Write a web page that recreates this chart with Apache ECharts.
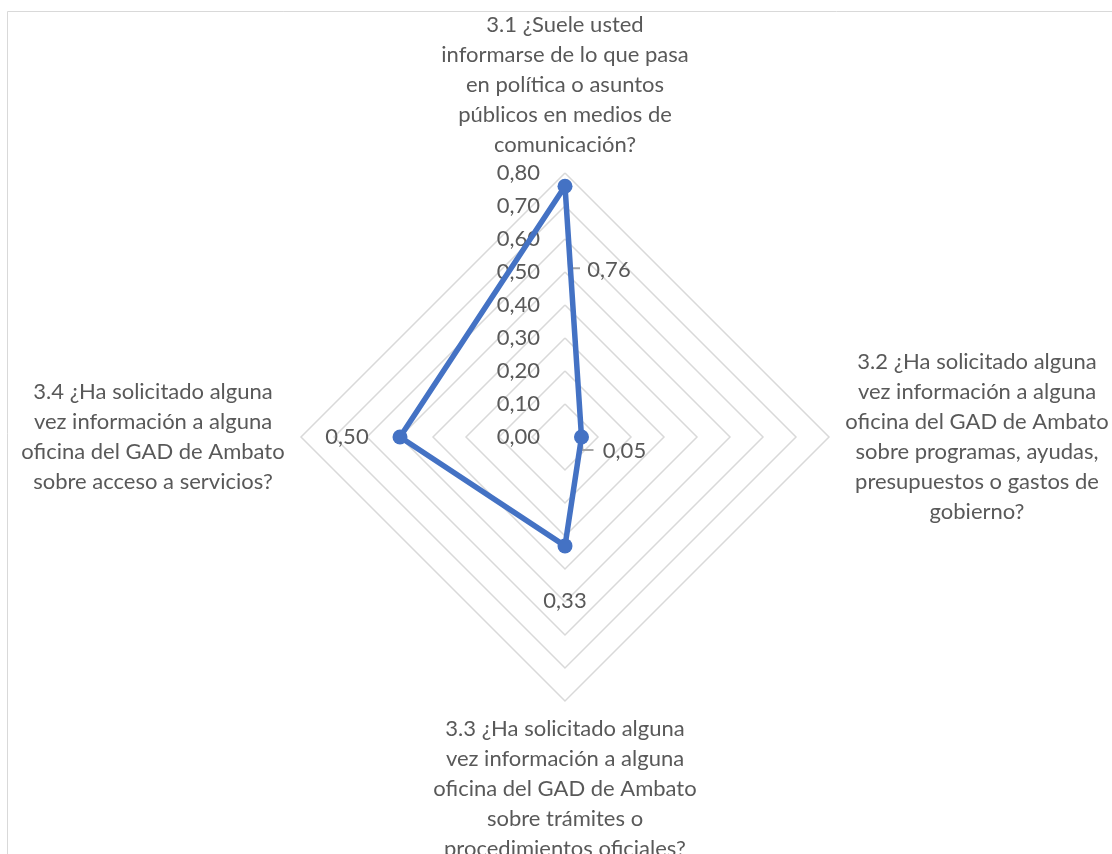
<!DOCTYPE html>
<html><head><meta charset="utf-8">
<script src="https://cdn.jsdelivr.net/npm/echarts@6/dist/echarts.min.js"></script>
<style>html,body{margin:0;padding:0;background:#fff}#c{width:1112px;height:854px}</style>
</head><body><div id="c"></div>
<script>
// Categories in the original (clockwise) order, line breaks as in the reference
const categories = [
  "3.1 ¿Suele usted\ninformarse de lo que pasa\nen política o asuntos\npúblicos en medios de\ncomunicación?",
  "3.2 ¿Ha solicitado alguna\nvez información a alguna\noficina del GAD de Ambato\nsobre programas, ayudas,\npresupuestos o gastos de\ngobierno?",
  "3.3 ¿Ha solicitado alguna\nvez información a alguna\noficina del GAD de Ambato\nsobre trámites o\nprocedimientos oficiales?",
  "3.4 ¿Ha solicitado alguna\nvez información a alguna\noficina del GAD de Ambato\nsobre acceso a servicios?"
];
const values = [0.76, 0.05, 0.33, 0.50];
const axisMin = 0;
const axisMax = 0.8;
const axisSplits = 8;

const FONT = 'Lato';
const TXT = '#595959';

// ECharts lays radar indicators counter-clockwise; reorder to get clockwise
const order = [0, 3, 2, 1];
const indicators = order.map((i, k) => {
  const ind = { name: categories[i], min: axisMin, max: axisMax };
  if (k === 0) ind.axisLabel = { show: true };
  return ind;
});
const seriesValues = order.map(i => values[i]);

// label offsets by original index (dx, dy)
const labelShift = { 0: [44, 84], 1: [43, 14], 2: [0, 55], 3: [-53, 0] };
const rich = {};
Object.keys(labelShift).forEach(k => {
  const [dx, dy] = labelShift[k];
  rich['v' + k] = {
    fontFamily: FONT, fontSize: 22, color: TXT,
    padding: [dy > 0 ? 2 * dy : 0, dx < 0 ? -2 * dx : 0, dy < 0 ? -2 * dy : 0, dx > 0 ? 2 * dx : 0]
  };
});
const fmt = v => v.toFixed(2).replace('.', ',');

const borderRect = {
  type: 'rect', silent: true,
  shape: { x: 7.5, y: 11.5, width: 1200, height: 1000 },
  style: { fill: 'none', stroke: '#d9d9d9', lineWidth: 1 }
};

const chart = echarts.init(document.getElementById('c'), null, { renderer: 'canvas' });
chart.setOption({
  animation: false,
  backgroundColor: '#fff',
  textStyle: { fontFamily: FONT },
  graphic: [borderRect],
  radar: {
    center: [565, 437],
    radius: 264,
    startAngle: 90,
    shape: 'polygon',
    splitNumber: axisSplits,
    indicator: indicators,
    nameGap: 13,
    axisName: {
      formatter: name => name.split('\n').map(l => '{c|' + l + '}').join('\n'),
      rich: { c: { width: 270, align: 'center', fontFamily: FONT, fontSize: 22, lineHeight: 30, color: TXT } }
    },
    axisLine: { show: false },
    axisTick: { show: false },
    axisLabel: {
      show: false, showMinLabel: true, showMaxLabel: true,
      margin: 25, color: TXT, fontFamily: FONT, fontSize: 22,
      formatter: v => fmt(v)
    },
    splitLine: { lineStyle: { color: '#d9d9d9', width: 1.5 } },
    splitArea: { show: false }
  },
  series: [{
    type: 'radar',
    symbol: 'circle',
    symbolSize: 15,
    lineStyle: { color: '#4472C4', width: 5.5 },
    itemStyle: { color: '#4472C4' },
    label: {
      show: true, position: 'inside',
      formatter: p => {
        const idx = values.indexOf(p.value);
        return '{v' + idx + '|' + fmt(p.value) + '}';
      },
      rich: rich
    },
    data: [{ value: seriesValues }]
  }]
});

// leader lines for the two displaced labels, anchored on the radar's own coordinate system
try {
  const cs = chart.getModel().getComponent('radar').coordinateSystem;
  const p0 = cs.dataToPoint(values[0], order.indexOf(0));
  const p1 = cs.dataToPoint(values[1], order.indexOf(1));
  chart.setOption({
    graphic: [borderRect, {
      type: 'polyline', silent: true, z: 1,
      shape: { points: [[p0[0], p0[1]], [p0[0] + 4, p0[1] + 82], [p0[0] + 15, p0[1] + 82]] },
      style: { stroke: '#a6a6a6', lineWidth: 2, fill: 'none' }
    }, {
      type: 'polyline', silent: true, z: 1,
      shape: { points: [[p1[0], p1[1]], [p1[0] + 1, p1[1] + 13], [p1[0] + 12, p1[1] + 13]] },
      style: { stroke: '#a6a6a6', lineWidth: 2, fill: 'none' }
    }]
  });
} catch (e) {}
</script>
</body></html>
